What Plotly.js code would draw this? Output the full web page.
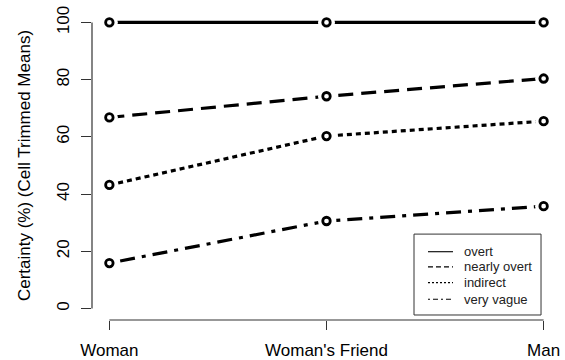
<!DOCTYPE html>
<html>
<head>
<meta charset="utf-8">
<script src="https://cdn.plot.ly/plotly-3.0.1.min.js"></script>
<style>
  html, body { margin: 0; padding: 0; background: #fff; }
  #chart { width: 565px; height: 360px; }
</style>
</head>
<body>
<div id="chart"></div>
<script>
// Conditions along the x axis
const categories = ["Woman", "Woman's Friend", "Man"];
const xPos = [1, 2, 3];

// Cell trimmed mean certainty (%) per hint type
const seriesNames = ["overt", "nearly overt", "indirect", "very vague"];
const overt = [100, 100, 100];
const nearlyOvert = [66.8, 74.2, 80.4];
const indirect = [43.2, 60.3, 65.5];
const veryVague = [15.9, 30.6, 35.8];

const yTicks = [0, 20, 40, 60, 80, 100];

const seriesValues = [overt, nearlyOvert, indirect, veryVague];
const dashes = ["solid", "15px,8px", "5px,4px", "4px,7px,15px,7px"];
const legendDashes = ["solid", "5px,3px", "2px,2px", "2px,3px,5px,3px"];

const traces = [];
// connecting lines
seriesValues.forEach((vals, i) => {
  traces.push({
    x: xPos, y: vals, type: "scatter", mode: "lines",
    line: { color: "#000", width: 3.2, dash: dashes[i] },
    showlegend: false, hoverinfo: "skip"
  });
});
// white discs leaving a gap in the line around each point
seriesValues.forEach((vals) => {
  traces.push({
    x: xPos, y: vals, type: "scatter", mode: "markers",
    marker: { symbol: "circle", size: 17, color: "#fff", line: { width: 0 } },
    showlegend: false, hoverinfo: "skip", cliponaxis: false
  });
});
// open circle points
seriesValues.forEach((vals) => {
  traces.push({
    x: xPos, y: vals, type: "scatter", mode: "markers",
    marker: { symbol: "circle-open", size: 7.5, color: "#000", line: { width: 2.8, color: "#000" } },
    showlegend: false, cliponaxis: false
  });
});

const axisColor = "#333";
const shapes = [
  { type: "line", xref: "paper", yref: "y", x0: 0, x1: 0, y0: 0, y1: 100,
    line: { color: axisColor, width: 1.2 } },
  { type: "line", xref: "x", yref: "paper", x0: 1, x1: 3, y0: 0, y1: 0,
    line: { color: axisColor, width: 1.2 } },
  // legend box
  { type: "rect", xref: "paper", yref: "paper", x0: 0.6866, x1: 0.9574, y0: 0.0162, y1: 0.278,
    line: { color: "#333", width: 1 }, fillcolor: "#fff", layer: "above" }
];
const annotations = [];
const rowY = [0.221, 0.172, 0.121, 0.067];
seriesNames.forEach((name, i) => {
  shapes.push({
    type: "line", xref: "paper", yref: "paper", x0: 0.7164, x1: 0.7697, y0: rowY[i], y1: rowY[i],
    line: { color: "#000", width: 1.1, dash: legendDashes[i] }, layer: "above"
  });
  annotations.push({
    xref: "paper", yref: "paper", x: 0.789, y: rowY[i], xanchor: "left", yanchor: "middle",
    text: name, showarrow: false, font: { size: 13, color: "#222" }
  });
});

const layout = {
  width: 565, height: 360,
  margin: { l: 92, r: 4, t: 11, b: 40 },
  paper_bgcolor: "#fff", plot_bgcolor: "#fff",
  font: { family: "Liberation Sans, Arial, sans-serif", color: "#000", size: 17 },
  showlegend: false,
  xaxis: {
    range: [0.92, 3.08],
    tickvals: xPos, ticktext: categories,
    ticks: "outside", ticklen: 9, tickwidth: 1.2, tickcolor: axisColor,
    ticklabelstandoff: 6,
    showgrid: false, zeroline: false, showline: false,
    tickfont: { size: 17, color: "#000" }
  },
  yaxis: {
    range: [-4, 104],
    tickvals: yTicks,
    ticks: "outside", ticklen: 10, tickwidth: 1.2, tickcolor: axisColor,
    tickangle: -90, ticklabelstandoff: 5,
    showgrid: false, zeroline: false, showline: false,
    tickfont: { size: 17, color: "#000" },
    title: { text: "Certainty (%) (Cell Trimmed Means)", font: { size: 17, color: "#000" }, standoff: 19 }
  },
  shapes: shapes,
  annotations: annotations
};

Plotly.newPlot("chart", traces, layout, { displayModeBar: false, staticPlot: true });
</script>
</body>
</html>
